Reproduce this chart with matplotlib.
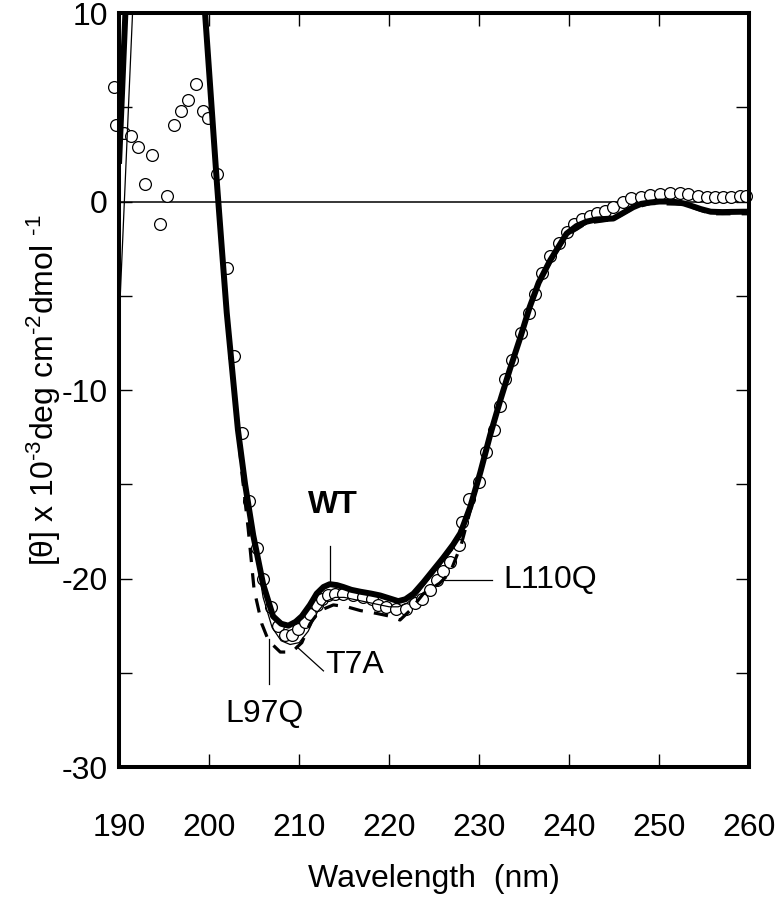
import matplotlib
matplotlib.use("Agg")
import matplotlib.pyplot as plt
from matplotlib.ticker import FixedLocator

plt.rcParams['font.family'] = ['Liberation Sans', 'DejaVu Sans']
plt.rcParams['axes.unicode_minus'] = False
plt.rcParams['mathtext.fontset'] = 'custom'
plt.rcParams['mathtext.rm'] = 'Liberation Sans'
plt.rcParams['mathtext.it'] = 'Liberation Sans'
plt.rcParams['mathtext.bf'] = 'Liberation Sans:bold'

# ---------------- data ----------------
wt_x = [190.0, 190.75, 191.5, 195.0, 199.0, 199.55, 200.85, 201.4, 201.96, 202.5, 203.2,
        204.0, 204.9, 206.0, 207.1, 208.0, 208.8, 209.6, 210.3, 211.2, 211.95, 212.7,
        213.4, 214.2, 214.9, 215.8, 216.8, 218.0, 219.0, 220.0, 221.0, 221.8, 222.7,
        223.8, 224.9, 226.0, 227.1, 227.9, 229.0, 230.1, 231.2, 232.3, 233.4, 234.5,
        235.6, 236.6, 237.9, 239.7, 240.8, 241.9, 243.0, 244.9, 246.0, 247.1, 248.0,
        249.0, 250.0, 251.5, 252.7, 253.8, 254.6, 255.7, 257.0, 258.0, 259.3, 260.0]
wt_y = [2.0, 10.5, 18.0, 30.0, 14.0, 10.0, 1.1, -2.4, -5.9, -8.6, -12.1,
        -15.0, -17.7, -20.3, -22.0, -22.4, -22.5, -22.3, -22.0, -21.4, -20.8, -20.45,
        -20.3, -20.35, -20.45, -20.6, -20.7, -20.8, -20.9, -21.05, -21.2, -21.1, -20.8,
        -20.2, -19.55, -18.9, -18.2, -17.6, -16.2, -14.4, -12.4, -10.6, -8.9, -7.3,
        -5.6, -4.3, -3.1, -1.7, -1.3, -1.07, -0.95, -0.9, -0.6, -0.3, -0.12,
        -0.05, 0.0, 0.0, -0.1, -0.27, -0.4, -0.54, -0.56, -0.55, -0.54, -0.54]

t7a_x = [190.0, 191.5, 192.5, 199.55, 200.85, 201.96, 203.2, 204.9, 206.0, 207.0, 208.0,
         209.0, 210.0, 211.0, 212.0, 213.0, 214.0, 215.0, 216.0, 217.0, 218.0, 219.0,
         220.0, 221.0, 222.0, 223.0, 224.0, 225.0, 226.0, 227.0, 228.0, 229.0, 230.1,
         231.2, 232.3, 233.4, 234.5, 235.6, 236.6, 237.9, 239.7, 241.9, 244.9, 247.1,
         249.0, 252.7, 255.7, 260.0]
t7a_y = [-6.5, 10.0, 16.0, 10.0, 1.1, -5.9, -12.1, -17.8, -21.0, -22.6, -23.3,
         -23.5, -23.4, -22.8, -21.8, -21.2, -21.0, -21.0, -21.1, -21.2, -21.3, -21.4,
         -21.5, -21.5, -21.3, -20.9, -20.3, -19.7, -19.1, -18.5, -17.6, -16.2, -14.4,
         -12.4, -10.6, -8.9, -7.3, -5.6, -4.3, -3.1, -1.7, -1.07, -0.9, -0.3,
         -0.05, -0.1, -0.54, -0.54]

l97q_x = [199.55, 200.85, 201.96, 202.8, 203.6, 204.35, 205.0, 205.85, 206.6, 207.9, 209.2,
          210.3, 211.2, 212.3, 213.8, 215.3, 216.8, 218.6, 220.1, 221.2, 222.3, 223.8,
          225.6, 226.75, 228.0, 229.0, 230.1, 231.2, 232.3, 233.4, 234.5, 235.6, 236.6,
          237.9, 239.7, 241.9, 244.9, 247.1, 249.0, 252.7, 255.7, 259.3, 260.0]
l97q_y = [10.0, 1.0, -6.1, -10.0, -14.2, -17.4, -20.6, -22.4, -23.3, -23.9, -23.9,
          -23.4, -22.4, -21.7, -21.4, -21.5, -21.7, -21.85, -22.0, -22.2, -21.7, -20.8,
          -20.25, -19.7, -18.2, -16.4, -14.5, -12.4, -10.6, -8.9, -7.3, -5.7, -4.4,
          -3.2, -1.8, -1.15, -0.95, -0.35, -0.1, -0.15, -0.65, -0.65, -0.65]

l110q_x = [189.4, 189.7, 190.5, 191.3, 192.1, 192.9, 193.7, 194.55, 195.3, 196.1, 196.85,
           197.65, 198.5, 199.3, 199.85, 200.85, 201.95, 202.8, 203.6, 204.45, 205.3, 206.0,
           206.9, 207.6, 208.4, 209.2, 209.9, 210.65, 211.2, 211.95, 212.5, 213.2, 214.0,
           214.9, 216.0, 217.1, 218.1, 218.8, 219.7, 220.8, 221.9, 222.9, 223.6, 224.5,
           225.3, 226.0, 226.75, 227.7, 228.05, 228.9, 230.0, 230.75, 231.6, 232.3, 232.9,
           233.6, 234.6, 235.5, 236.2, 237.0, 237.9, 238.8, 239.7, 240.5, 241.4, 242.3,
           243.1, 244.0, 244.9, 246.0, 246.9, 248.0, 249.0, 250.1, 251.2, 252.3, 253.2,
           254.3, 255.3, 256.2, 257.1, 258.0, 259.0, 259.6]
l110q_y = [6.1, 4.05, 3.65, 3.5, 2.9, 0.95, 2.45, -1.2, 0.3, 4.05, 4.8,
           5.4, 6.25, 4.8, 4.45, 1.45, -3.5, -8.2, -12.3, -15.9, -18.4, -20.0,
           -21.5, -22.5, -23.0, -23.0, -22.7, -22.3, -21.9, -21.4, -21.1, -20.9, -20.8,
           -20.8, -20.9, -21.0, -21.1, -21.4, -21.5, -21.6, -21.6, -21.3, -21.1, -20.6,
           -20.1, -19.6, -19.1, -18.2, -17.0, -15.8, -14.9, -13.3, -12.1, -10.85, -9.4,
           -8.4, -7.0, -5.9, -4.9, -3.8, -2.9, -2.2, -1.6, -1.2, -0.95, -0.75,
           -0.6, -0.5, -0.27, 0.0, 0.17, 0.25, 0.34, 0.4, 0.43, 0.43, 0.4,
           0.29, 0.25, 0.22, 0.22, 0.25, 0.29, 0.29]

x_ticks = [190, 200, 210, 220, 230, 240, 250, 260]
y_ticks = [-30, -20, -10, 0, 10]
y_minor = [-25, -15, -5, 5]

FS = 23

# ---------------- figure ----------------
fig = plt.figure(figsize=(7.77, 8.99), dpi=100)
ax = fig.add_axes([0.1532, 0.1468, 0.8113, 0.8387])

ax.axhline(0, color='black', lw=1.1, zorder=1)
ax.plot(l110q_x, l110q_y, 'o', ms=8.5, mfc='white', mec='black', mew=0.9, zorder=2, clip_on=False)
ax.plot(l97q_x, l97q_y, color='black', lw=2.3, ls=(0, (4.5, 3.5)), zorder=3)
ax.plot(t7a_x, t7a_y, color='black', lw=0.9, zorder=4)
ax.plot(wt_x, wt_y, color='black', lw=4.3, zorder=5, solid_capstyle='butt')

ax.set_xlim(190, 260)
ax.set_ylim(-30, 10)
ax.xaxis.set_major_locator(FixedLocator(x_ticks))
ax.yaxis.set_major_locator(FixedLocator(y_ticks))
ax.yaxis.set_minor_locator(FixedLocator(y_minor))
ax.set_xticklabels([str(t) for t in x_ticks])
ax.set_yticklabels([str(t) for t in y_ticks])

for s in ax.spines.values():
    s.set_linewidth(2.9)
ax.tick_params(which='both', direction='in', top=True, right=True, length=9.5, width=1.0,
               labelsize=FS)
ax.tick_params(axis='x', pad=33)
ax.tick_params(axis='y', pad=8)

ax.set_xlabel('Wavelength  (nm)', fontsize=FS)
ax.xaxis.label.set_va('center')
ax.xaxis.set_label_coords(0.5, -0.148)
ax.set_ylabel(r'[θ] x 10$^{\text{-3}}$deg cm$^{\text{-2}}$dmol $^{\text{-1}}$', fontsize=FS)
ax.yaxis.label.set_va('center')
ax.yaxis.set_label_coords(-0.12, 0.5)

# annotations
ax.text(213.76, -16.1, 'WT', fontsize=FS, fontweight='bold', ha='center', va='center')
ax.plot([213.4, 213.4], [-18.3, -20.2], color='black', lw=0.9)
ax.text(216.2, -24.6, 'T7A', fontsize=FS, ha='center', va='center')
ax.plot([209.7, 212.7], [-23.6, -24.9], color='black', lw=0.9)
ax.text(206.2, -27.2, 'L97Q', fontsize=FS, ha='center', va='center')
ax.plot([206.6, 206.6], [-23.2, -25.6], color='black', lw=0.9)
ax.text(237.9, -20.1, 'L110Q', fontsize=FS, ha='center', va='center')
ax.plot([226.0, 231.4], [-20.1, -20.1], color='black', lw=0.9)

fig.savefig('out.png', dpi=100)
